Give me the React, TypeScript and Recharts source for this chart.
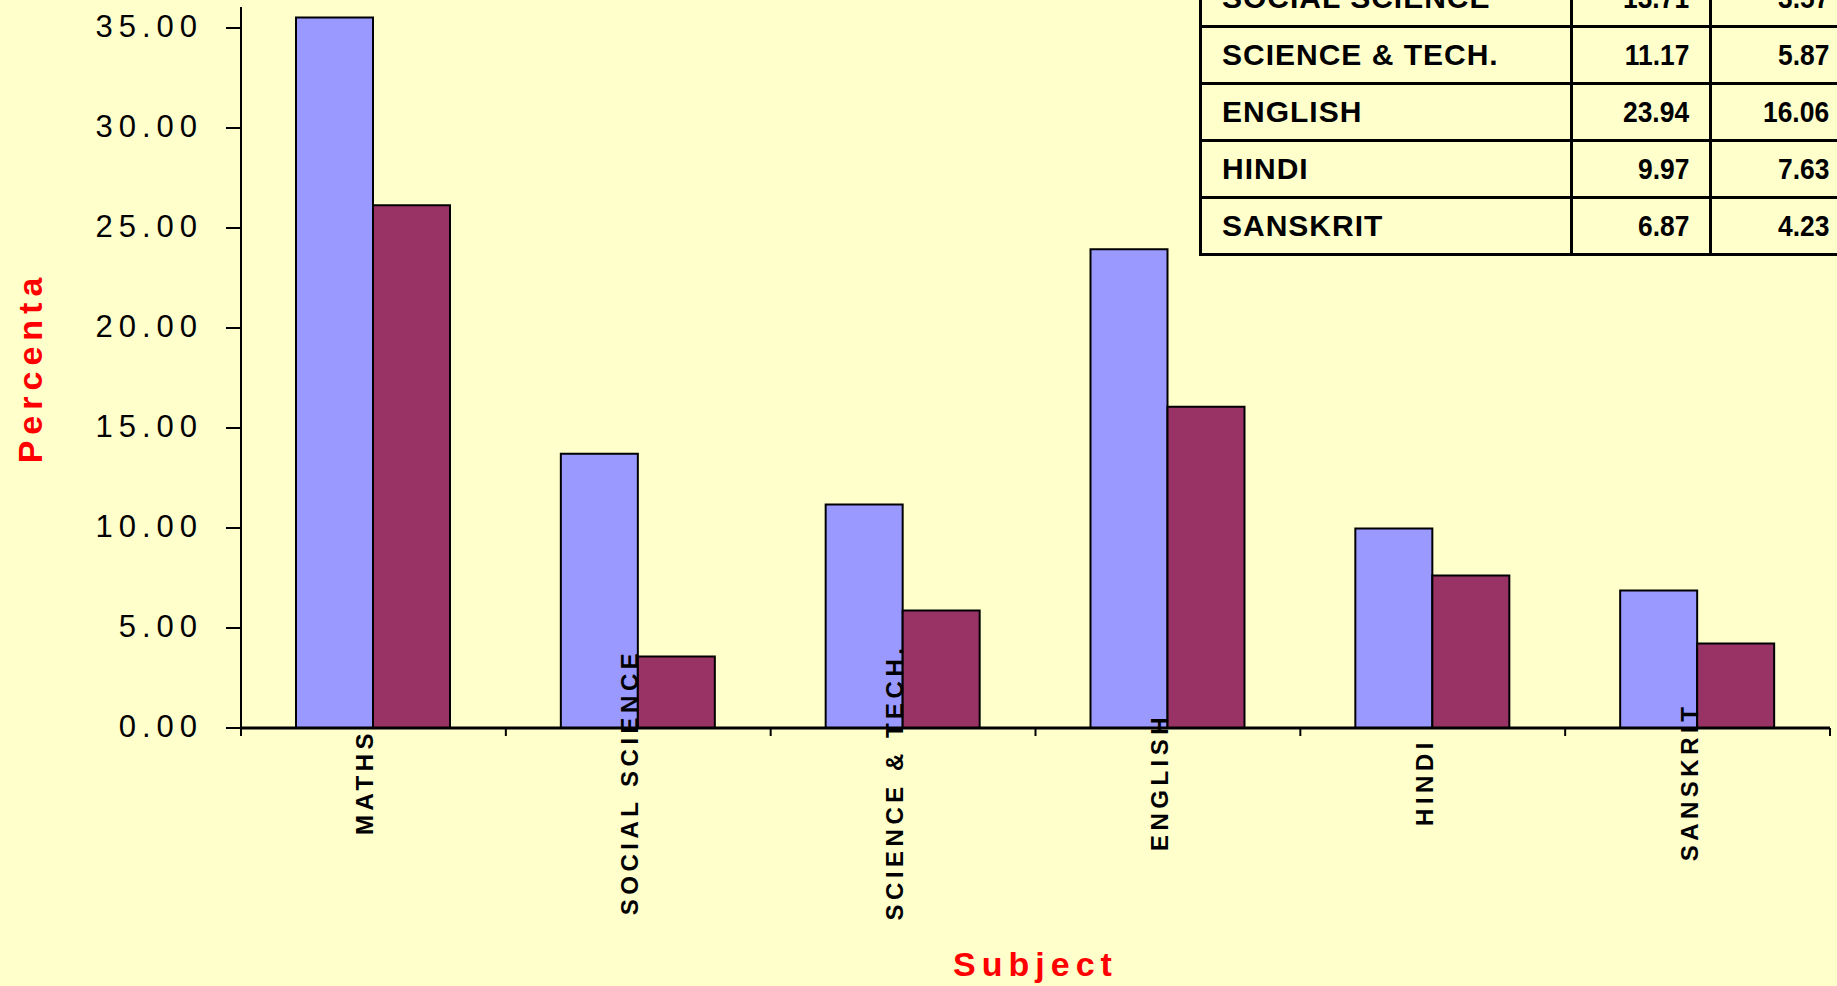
import { BarChart, Bar, XAxis, YAxis, Label } from "recharts";

const subjects = ["MATHS", "SOCIAL SCIENCE", "SCIENCE & TECH.", "ENGLISH", "HINDI", "SANSKRIT"];
const seriesA = [35.52, 13.71, 11.17, 23.94, 9.97, 6.87];
const seriesB = [26.14, 3.57, 5.87, 16.06, 7.63, 4.23];
const yTicks = [0, 5, 10, 15, 20, 25, 30, 35];

const data = subjects.map((s, i) => ({ subject: s, a: seriesA[i], b: seriesB[i] }));

const FONT = '"Liberation Sans", Arial, sans-serif';

const XTick = (props: any) => {
  const { x, y, payload, index, width } = props;
  const half = width / subjects.length / 2;
  const midY = y + 54;
  return (
    <g>
      <line x1={x - half} y1={y} x2={x - half} y2={y + 8} stroke="#000" strokeWidth={2} />
      {index === subjects.length - 1 && (
        <line x1={x + half} y1={y} x2={x + half} y2={y + 8} stroke="#000" strokeWidth={2} />
      )}
      <text
        x={x}
        y={midY}
        transform={`rotate(-90, ${x}, ${midY})`}
        textAnchor="middle"
        fontFamily={FONT}
        fontWeight="bold"
        fontSize={24}
        letterSpacing={4.5}
        fill="#000"
      >
        {payload.value}
      </text>
    </g>
  );
};

const YTick = (props: any) => {
  const { x, y, payload } = props;
  return (
    <text x={x} y={y} dy="0.3em" textAnchor="end" fontFamily={FONT} fontSize={31} letterSpacing={6} fill="#000">
      {Number(payload.value).toFixed(2)}
    </text>
  );
};

const cell = { border: "3px solid #000", padding: "0 20px", height: 54, fontSize: 30, fontWeight: "bold" as const };

const Num = ({ v }: { v: number }) => (
  <span style={{ display: "inline-block", transform: "scaleX(0.88)", transformOrigin: "right center" }}>
    {v.toFixed(2)}
  </span>
);

export default function App() {
  return (
    <div
      style={{
        position: "fixed",
        left: 0,
        top: 0,
        width: 1837,
        height: 986,
        background: "#FFFFCC",
        overflow: "hidden",
        fontFamily: FONT,
      }}
    >
      <BarChart
        width={1837}
        height={986}
        data={data}
        margin={{ top: 7, right: 7, left: 0, bottom: 0 }}
        barGap={0}
        barSize={77}
      >
        <XAxis
          dataKey="subject"
          height={258}
          interval={0}
          tickSize={0}
          tickMargin={0}
          tickLine={false}
          axisLine={{ stroke: "#000", strokeWidth: 3 }}
          tick={<XTick />}
        >
          <Label
            content={(p: any) => {
              const vb = p.viewBox;
              return (
                <text
                  x={vb.x + vb.width / 2}
                  y={vb.y + vb.height - 10}
                  textAnchor="middle"
                  fontFamily={FONT}
                  fontWeight="bold"
                  fontSize={34}
                  letterSpacing={6}
                  fill="#FF0000"
                >
                  Subject
                </text>
              );
            }}
          />
        </XAxis>
        <YAxis
          width={241}
          domain={[0, 36.05]}
          ticks={yTicks}
          interval={0}
          tickSize={15}
          tickMargin={23}
          axisLine={{ stroke: "#000", strokeWidth: 2 }}
          tickLine={{ stroke: "#000", strokeWidth: 2 }}
          tick={<YTick />}
        >
          <Label
            content={(p: any) => {
              const vb = p.viewBox;
              const cx = vb.x + 42;
              const cy = vb.y + vb.height / 2;
              return (
                <text
                  x={cx}
                  y={cy}
                  transform={`rotate(-90, ${cx}, ${cy})`}
                  textAnchor="middle"
                  fontFamily={FONT}
                  fontWeight="bold"
                  fontSize={34}
                  letterSpacing={6}
                  fill="#FF0000"
                >
                  Percenta
                </text>
              );
            }}
          />
        </YAxis>
        <Bar dataKey="a" fill="#9999FF" stroke="#000" strokeWidth={2} isAnimationActive={false} />
        <Bar dataKey="b" fill="#993366" stroke="#000" strokeWidth={2} isAnimationActive={false} />
      </BarChart>
      <table
        style={{
          position: "absolute",
          left: 1199,
          top: 26 - 2 * 57 - 1,
          borderCollapse: "collapse",
          tableLayout: "fixed",
          width: 650,
          color: "#000",
        }}
      >
        <colgroup>
          <col style={{ width: 371 }} />
          <col style={{ width: 139 }} />
          <col style={{ width: 140 }} />
        </colgroup>
        <tbody>
          {subjects.map((s, i) => (
            <tr key={s}>
              <td style={{ ...cell, textAlign: "left", letterSpacing: 1 }}>{s}</td>
              <td style={{ ...cell, textAlign: "right" }}>
                <Num v={seriesA[i]} />
              </td>
              <td style={{ ...cell, textAlign: "right" }}>
                <Num v={seriesB[i]} />
              </td>
            </tr>
          ))}
        </tbody>
      </table>
    </div>
  );
}
